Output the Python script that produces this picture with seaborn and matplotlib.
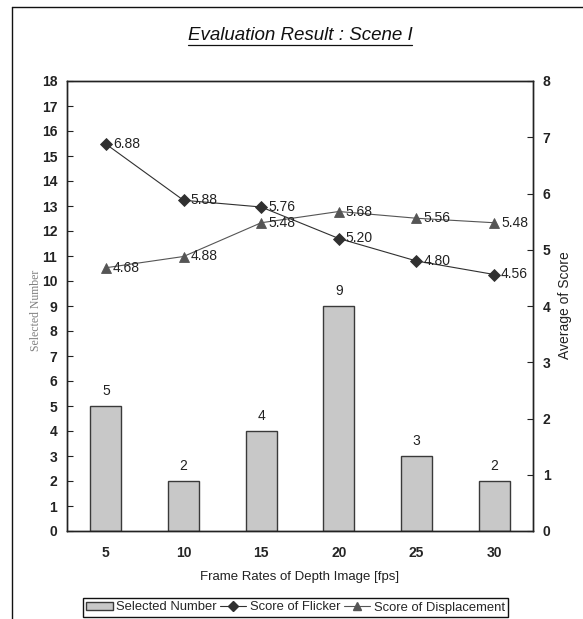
import numpy as np
import pandas as pd
import matplotlib
matplotlib.use("Agg")
import matplotlib.pyplot as plt
from matplotlib.lines import Line2D
from matplotlib.patches import Patch
import seaborn as sns

# ---- data ----
fps = ["5", "10", "15", "20", "25", "30"]
selected_number = [5, 2, 4, 9, 3, 2]
score_flicker = [6.88, 5.88, 5.76, 5.20, 4.80, 4.56]
score_displacement = [4.68, 4.88, 5.48, 5.68, 5.56, 5.48]
left_ticks = list(range(0, 19))
right_ticks = list(range(0, 9))

sns.set_style("white")
plt.rcParams["font.family"] = ["Liberation Sans", "DejaVu Sans"]

W, H = 583, 619
fig = plt.figure(figsize=(W / 100, H / 100), dpi=100)
ax = fig.add_axes([67 / W, 1 - 531 / H, (533 - 67) / W, (531 - 81) / H])

df = pd.DataFrame({"fps": fps, "sel": selected_number,
                   "flk": score_flicker, "dsp": score_displacement})

sns.barplot(data=df, x="fps", y="sel", color="#C8C8C8", saturation=1,
            edgecolor="#3a3a3a", linewidth=1.0, width=0.4, ax=ax)
ax.set_ylim(0, 18)
ax.set_xlim(-0.5, len(fps) - 0.5)
ax.set_yticks(left_ticks)
ax.set_xticks(range(len(fps)))
ax.set_xticklabels(fps)
ax.set_xticks(np.arange(0.5, len(fps) - 1, 1.0), minor=True)
for sp in ax.spines.values():
    sp.set_color("#222222")
    sp.set_linewidth(1.0)
ax.tick_params(axis="y", direction="in", length=4, width=0.8, pad=7,
               labelsize=10, colors="#222222")
ax.tick_params(axis="x", which="major", length=0, pad=11, labelsize=10)
ax.tick_params(axis="x", which="minor", direction="in", length=4, width=0.8)
for lbl in ax.get_xticklabels() + ax.get_yticklabels():
    lbl.set_fontweight("bold")
ax.set_xlabel("")
ax.set_ylabel("")

for i, v in enumerate(selected_number):
    ax.annotate(str(v), (i, v), xytext=(0, 6), textcoords="offset points",
                ha="center", va="bottom", fontsize=10, color="#222222")

ax2 = ax.twinx()
sns.pointplot(data=df, x="fps", y="flk", color="#303030", markers="D",
              linestyles="-", errorbar=None, ax=ax2,
              markersize=6, linewidth=0.8)
sns.pointplot(data=df, x="fps", y="dsp", color="#555555", markers="^",
              linestyles="-", errorbar=None, ax=ax2,
              markersize=7, linewidth=0.8)
ax2.set_ylim(0, 8)
ax2.set_xlim(-0.5, len(fps) - 0.5)
ax2.set_yticks(right_ticks)
ax2.tick_params(axis="y", direction="in", length=4, width=0.8, pad=7,
                labelsize=10, colors="#222222")
for lbl in ax2.get_yticklabels():
    lbl.set_fontweight("bold")
ax2.set_ylabel("")
ax2.set_xlabel("")
for sp in ax2.spines.values():
    sp.set_color("#222222")
    sp.set_linewidth(1.0)

for i, v in enumerate(score_flicker):
    ax2.annotate(f"{v:.2f}", (i, v), xytext=(5, 0), textcoords="offset points",
                 ha="left", va="center", fontsize=10, color="#222222")
for i, v in enumerate(score_displacement):
    ax2.annotate(f"{v:.2f}", (i, v), xytext=(5, 0), textcoords="offset points",
                 ha="left", va="center", fontsize=10, color="#222222")

# axis labels
fig.text(300 / W, 1 - 577 / H, "Frame Rates of Depth Image [fps]",
         ha="center", va="center", fontsize=9.5, color="#222222")
fig.text(36 / W, 1 - 310 / H, "Selected Number", rotation=90, ha="center",
         va="center", fontsize=8.5, color="#808080",
         family=["Liberation Serif", "DejaVu Serif"])
fig.text(565 / W, 1 - 305 / H, "Average of Score", rotation=90, ha="center",
         va="center", fontsize=10, color="#222222")

# title with underline
title = fig.text(300 / W, 1 - 35 / H, "Evaluation Result : Scene I",
                 ha="center", va="center", fontsize=13.5, style="italic",
                 color="#111111")
fig.canvas.draw()
bb = title.get_window_extent()
fig.add_artist(Line2D([bb.x0 / W, bb.x1 / W], [(bb.y0 - 1) / H, (bb.y0 - 1) / H],
                      transform=fig.transFigure, color="#111111", lw=0.9))

# legend
handles = [Patch(facecolor="#C8C8C8", edgecolor="#3a3a3a", lw=1.0),
           Line2D([], [], color="#303030", marker="D", markersize=5, lw=0.8),
           Line2D([], [], color="#555555", marker="^", markersize=6, lw=0.8)]
leg = fig.legend(handles, ["Selected Number", "Score of Flicker", "Score of Displacement"],
                 loc="center", bbox_to_anchor=(295.5 / W, 1 - 607.5 / H), ncol=3,
                 fontsize=9.4, frameon=True, fancybox=False, shadow=False,
                 framealpha=1, edgecolor="#111111", borderpad=0.3,
                 handlelength=2.0, handletextpad=0.25, columnspacing=0.3,
                 handleheight=0.55)
leg.get_frame().set_linewidth(1.0)

# outer frame (top and left edges visible)
fig.add_artist(Line2D([12 / W, 12 / W], [0, 1 - 7 / H], transform=fig.transFigure,
                      color="#111111", lw=1.0))
fig.add_artist(Line2D([12 / W, 1], [1 - 7 / H, 1 - 7 / H], transform=fig.transFigure,
                      color="#111111", lw=1.0))

fig.savefig("out.png", dpi=100)
